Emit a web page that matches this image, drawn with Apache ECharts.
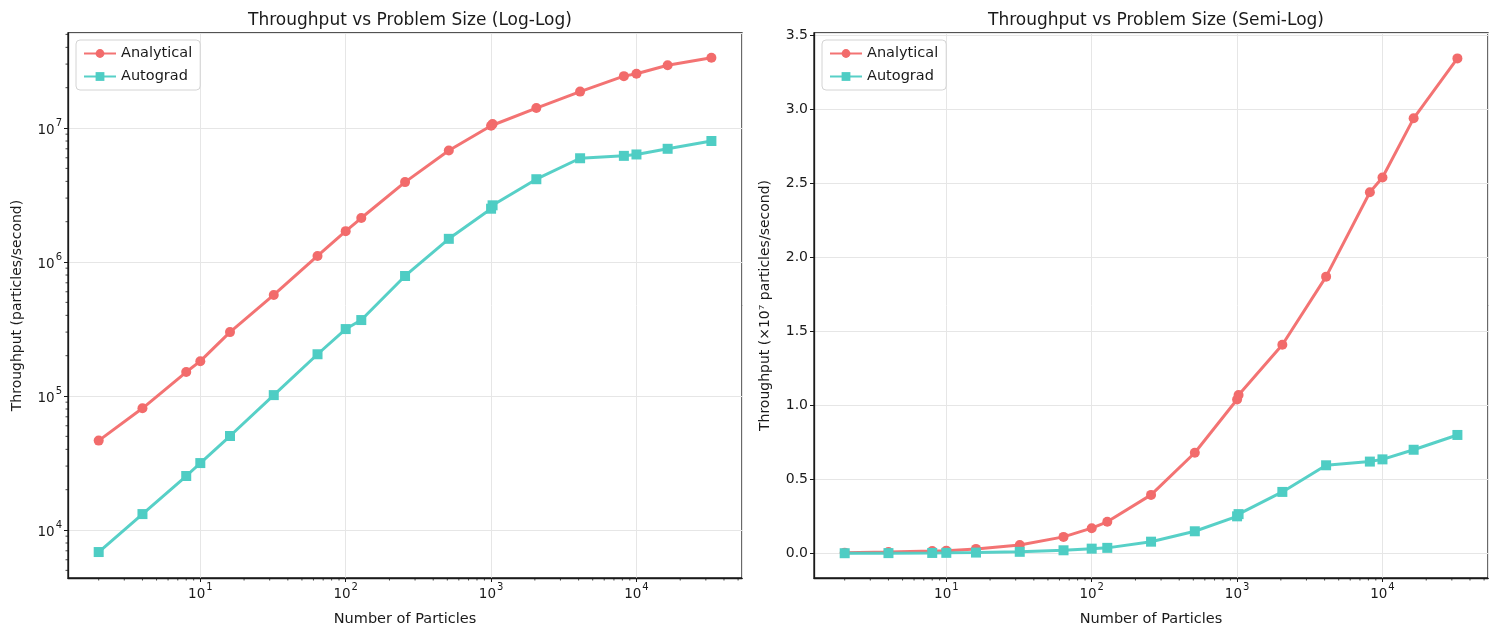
<!DOCTYPE html>
<html>
	<head>
		<meta charset="utf-8">
		<title>Throughput vs Problem Size</title>
		<script src="https://cdn.jsdelivr.net/npm/echarts@6/dist/echarts.min.js"></script>
		<style>
			html, body { margin: 0; padding: 0; background: #fff; }
		</style>
	</head>
	<body>
		<div id="main" style="width: 1500px;height:635px;"></div>
		<script>
			// data
			var particles = [2, 4, 8, 10, 16, 32, 64, 100, 128, 256, 512, 1000, 1024, 2048, 4096, 8192, 10000, 16384, 32768];
			var analytical = [46500, 81000, 151000, 182000, 300000, 568000, 1110000, 1700000, 2130000, 3950000, 6800000,
				10400000, 10700000, 14100000, 18700000, 24400000, 25400000, 29400000, 33450000];
			var autograd = [6850, 13150, 25300, 31600, 50300, 101600, 205000, 316000, 369000, 787000, 1490000,
				2500000, 2650000, 4150000, 5950000, 6200000, 6350000, 7000000, 8000000];
			var seriesNames = ['Analytical', 'Autograd'];

			var RED = '#F26B6B';
			var TEAL = '#4ECDC4';
			var FONT = 'DejaVu Sans';
			var INK = '#1a1a1a';

			function pairs(xs, ys) {
				return xs.map(function(x, i) { return [x, ys[i]]; });
			}

			// matplotlib-ish minor ticks for log axes (2..9 x 10^k)
			function minorTicks(lo, hi) {
				var out = [];
				for (var k = -1; k <= 8; k++) {
					for (var m = 2; m <= 9; m++) {
						var v = m * Math.pow(10, k);
						if (v > lo && v < hi) out.push(v);
					}
				}
				return out;
			}

			var xMin = 1.23, xMax = 53200;
			var yLogMin = 4385, yLogMax = 5.12e7;
			var ySemiMin = -1.668e6, ySemiMax = 3.5167e7;

			var myChart = echarts.init(document.getElementById('main'));

			var powLabel = function(v) {
				var e = Math.round(Math.log(v) / Math.LN10);
				return '{b|10}{s|' + e + '}';
			};
			var powRich = {
				b: { fontFamily: FONT, fontSize: 13.5, color: INK, lineHeight: 19, verticalAlign: 'bottom' },
				s: { fontFamily: FONT, fontSize: 10, color: INK, lineHeight: 19, verticalAlign: 'top', padding: [0, 0, 6, 1] }
			};

			function logXAxis(idx) {
				return {
					gridIndex: idx,
					type: 'log',
					logBase: 10,
					min: xMin,
					max: xMax,
					name: 'Number of Particles',
					nameLocation: 'middle',
					nameGap: 34,
					nameTextStyle: { fontFamily: FONT, fontSize: 14.5, color: INK },
					axisLine: { show: true, onZero: false, lineStyle: { color: INK, width: 1.3 } },
					axisTick: { show: true, length: 4, lineStyle: { color: INK } },
					axisLabel: {
						showMinLabel: false, showMaxLabel: false,
						margin: 4,
						formatter: powLabel,
						rich: powRich
					},
					splitLine: { show: true, lineStyle: { color: '#e6e6e6', width: 1 } }
				};
			}

			function minorSeries(name, xIdx, yIdx, values, vertical, refX, refY) {
				return {
					name: name,
					type: 'custom',
					xAxisIndex: xIdx,
					yAxisIndex: yIdx,
					clip: false,
					silent: true,
					tooltip: { show: false },
					data: values,
					renderItem: function(params, api) {
						var cs = params.coordSys;
						var v = api.value(0);
						var p;
						if (vertical) {
							p = api.coord([refX, v]);
							return { type: 'line', shape: { x1: cs.x, y1: p[1], x2: cs.x - 2.5, y2: p[1] },
								style: { stroke: INK, lineWidth: 0.8 } };
						}
						p = api.coord([v, refY]);
						return { type: 'line', shape: { x1: p[0], y1: cs.y + cs.height, x2: p[0], y2: cs.y + cs.height + 2.5 },
							style: { stroke: INK, lineWidth: 0.8 } };
					}
				};
			}

			function lineSeries(name, xIdx, yIdx, ys, color, symbol) {
				return {
					name: name,
					type: 'line',
					xAxisIndex: xIdx,
					yAxisIndex: yIdx,
					data: pairs(particles, ys),
					symbol: symbol,
					symbolSize: 10,
					showAllSymbol: true,
					lineStyle: { color: color, width: 3, opacity: 0.95 },
					itemStyle: { color: color },
					emphasis: { disabled: true },
					z: 3
				};
			}

			function legendFor(left) {
				return {
					left: left,
					top: 40,
					orient: 'vertical',
					data: seriesNames,
					itemWidth: 32,
					itemHeight: 11,
					itemGap: 8,
					padding: [6, 8, 6, 7],
					backgroundColor: '#fff',
					borderColor: '#d4d4d4',
					borderWidth: 1,
					borderRadius: 4,
					textStyle: { fontFamily: FONT, fontSize: 14.5, color: INK }
				};
			}

			var option = {
				backgroundColor: '#fff',
				animation: false,
				title: [{
					text: 'Throughput vs Problem Size (Log-Log)',
					left: 405, top: 7, textAlign: 'center',
					textStyle: { fontFamily: FONT, fontSize: 17, fontWeight: 'normal', color: INK }
				}, {
					text: 'Throughput vs Problem Size (Semi-Log)',
					left: 1151, top: 7, textAlign: 'center',
					textStyle: { fontFamily: FONT, fontSize: 17, fontWeight: 'normal', color: INK }
				}],
				legend: [legendFor(76), legendFor(822)],
				grid: [
					{ left: 68, right: 758, top: 33, bottom: 57, show: true, borderColor: INK, borderWidth: 1.3, backgroundColor: 'transparent' },
					{ left: 814, right: 12, top: 33, bottom: 57, show: true, borderColor: INK, borderWidth: 1.3, backgroundColor: 'transparent' }
				],
				xAxis: [logXAxis(0), logXAxis(1)],
				yAxis: [{
					gridIndex: 0,
					type: 'log',
					logBase: 10,
					min: yLogMin,
					max: yLogMax,
					name: 'Throughput (particles/second)',
					nameLocation: 'middle',
					nameGap: 44,
					nameTextStyle: { fontFamily: FONT, fontSize: 14, color: INK },
					axisLine: { show: true, lineStyle: { color: INK, width: 1.3 } },
					axisTick: { show: true, length: 4, lineStyle: { color: INK } },
					axisLabel: {
						showMinLabel: false, showMaxLabel: false,
						margin: 6,
						formatter: powLabel,
						rich: powRich
					},
					splitLine: { show: true, lineStyle: { color: '#e6e6e6', width: 1 } }
				}, {
					gridIndex: 1,
					type: 'value',
					min: ySemiMin,
					max: ySemiMax,
					splitNumber: 7,
					name: 'Throughput (×10⁷ particles/second)',
					nameLocation: 'middle',
					nameGap: 42,
					nameTextStyle: { fontFamily: FONT, fontSize: 14, color: INK },
					axisLine: { show: true, lineStyle: { color: INK, width: 1.3 } },
					axisTick: { show: true, length: 4, lineStyle: { color: INK } },
					axisLabel: {
						showMinLabel: false, showMaxLabel: false,
						margin: 6,
						fontFamily: FONT, fontSize: 14, color: INK,
						formatter: function(v) { return (v / 1e7).toFixed(1); }
					},
					splitLine: { show: true, lineStyle: { color: '#e6e6e6', width: 1 } }
				}],
				series: [
					lineSeries('Analytical', 0, 0, analytical, RED, 'circle'),
					lineSeries('Autograd', 0, 0, autograd, TEAL, 'rect'),
					lineSeries('Analytical', 1, 1, analytical, RED, 'circle'),
					lineSeries('Autograd', 1, 1, autograd, TEAL, 'rect'),
					minorSeries('xminor0', 0, 0, minorTicks(xMin, xMax), false, 1, yLogMin * 2),
					minorSeries('xminor1', 1, 1, minorTicks(xMin, xMax), false, 1, 0),
					minorSeries('yminor0', 0, 0, minorTicks(yLogMin, yLogMax), true, 10, 0)
				]
			};

			myChart.setOption(option);
		</script>
	</body>
</html>
